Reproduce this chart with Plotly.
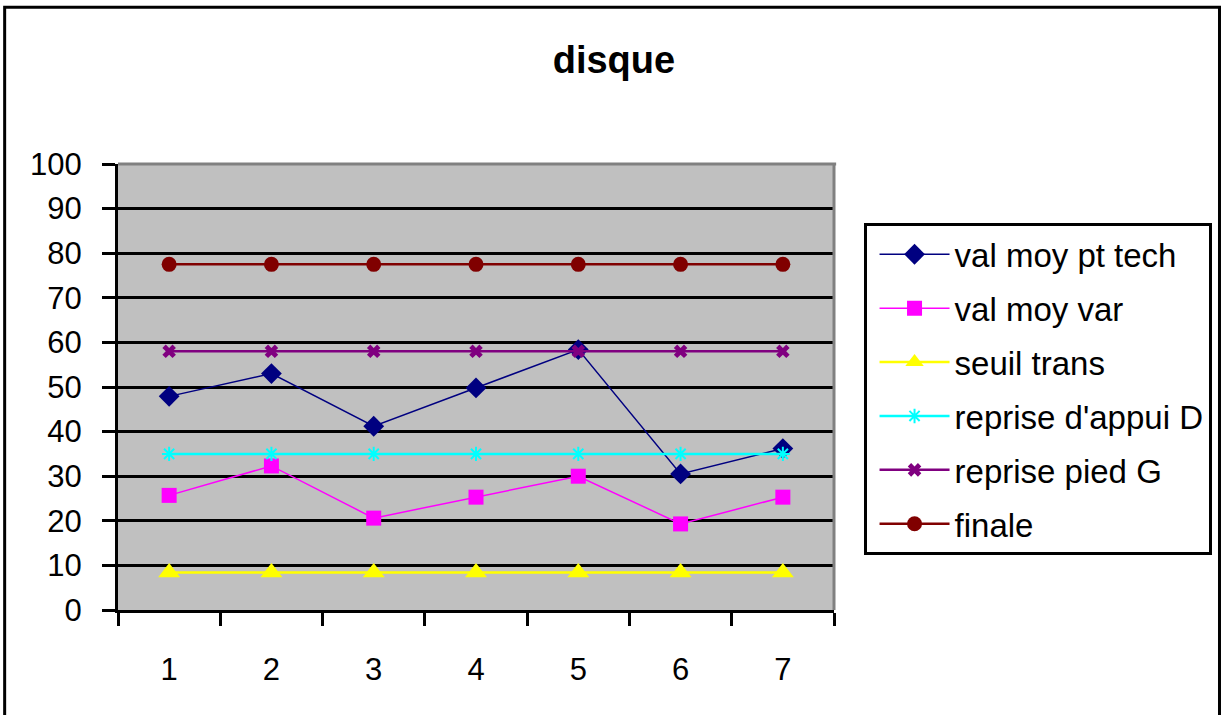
import plotly.graph_objects as go

# Chart data
categories = [1, 2, 3, 4, 5, 6, 7]
val_moy_pt_tech = [47.9, 53.0, 41.2, 49.8, 58.4, 30.5, 36.2]
val_moy_var = [25.7, 32.3, 20.6, 25.3, 30.0, 19.3, 25.3]
seuil_trans = [8.4, 8.4, 8.4, 8.4, 8.4, 8.4, 8.4]
reprise_appui_d = [35, 35, 35, 35, 35, 35, 35]
reprise_pied_g = [58, 58, 58, 58, 58, 58, 58]
finale = [77.5, 77.5, 77.5, 77.5, 77.5, 77.5, 77.5]
y_ticks = [0, 10, 20, 30, 40, 50, 60, 70, 80, 90, 100]

FONT = "Liberation Sans, Arial, sans-serif"

series = [
    ("val moy pt tech", val_moy_pt_tech, "#000080", "diamond", 16, 1.5),
    ("val moy var", val_moy_var, "#FF00FF", "square", 15, 1.5),
    ("seuil trans", seuil_trans, "#FFFF00", "triangle-up", 19, 2.5),
    ("reprise d'appui D", reprise_appui_d, "#00FFFF", "asterisk-open", 12, 2.5),
    ("reprise pied G", reprise_pied_g, "#800080", "x", 12, 2.5),
    ("finale", finale, "#800000", "circle", 15, 2.5),
]

fig = go.Figure()
for name, values, color, symbol, size, width in series:
    marker = dict(symbol=symbol, size=size, color=color)
    if symbol.endswith("-open"):
        marker["line"] = dict(color=color, width=2)
    fig.add_trace(go.Scatter(
        x=categories, y=values, name=name, mode="lines+markers",
        line=dict(color=color, width=width), marker=marker,
        legendgroup=name,
    ))

fig.update_layout(
    width=1223, height=715,
    margin=dict(l=118, r=388, t=164, b=105),
    paper_bgcolor="white",
    plot_bgcolor="#C0C0C0",
    font=dict(family=FONT, color="black"),
    title=dict(text="<b>disque</b>", font=dict(family=FONT, size=38, color="black"),
               x=0.502, xref="container", xanchor="center",
               y=1 - 60 / 715, yref="container", yanchor="middle"),
    showlegend=True,
    legend=dict(
        x=1.0398, y=0.867, xanchor="left", yanchor="top",
        bordercolor="black", borderwidth=3, bgcolor="white",
        font=dict(family=FONT, size=33, color="black"),
        itemwidth=70, tracegroupgap=8, indentation=8,
    ),
    xaxis=dict(
        range=[0.5, 7.5], tickvals=categories, ticktext=[str(c) for c in categories],
        ticks="", showgrid=False, zeroline=False,
        showline=True, linecolor="black", linewidth=3,
        tickfont=dict(family=FONT, size=31, color="black"),
        ticklabelstandoff=30,
        minor=dict(tick0=0.5, dtick=1, ticks="outside", ticklen=13,
                   tickwidth=2.5, tickcolor="black", showgrid=False),
    ),
    yaxis=dict(
        range=[0, 100], tickvals=y_ticks, ticks="outside", ticklen=13,
        tickwidth=2.5, tickcolor="black",
        showgrid=True, gridcolor="black", gridwidth=2.5, zeroline=False,
        showline=True, linecolor="black", linewidth=3,
        tickfont=dict(family=FONT, size=31, color="black"),
        ticklabelstandoff=14,
    ),
    shapes=[
        # grey frame on top and right of the plotting area
        dict(type="line", xref="paper", yref="paper", x0=0, x1=1.003, y0=1, y1=1,
             line=dict(color="#808080", width=3), layer="above"),
        dict(type="line", xref="paper", yref="paper", x0=1, x1=1, y0=0, y1=1,
             line=dict(color="#808080", width=3), layer="above"),
        # outer chart border
        dict(type="rect", xref="paper", yref="paper",
             x0=-0.1583, x1=1.5384, y0=-0.26, y1=1.3514,
             line=dict(color="black", width=3), fillcolor="rgba(0,0,0,0)", layer="above"),
    ],
)

fig.write_html("out.html")
